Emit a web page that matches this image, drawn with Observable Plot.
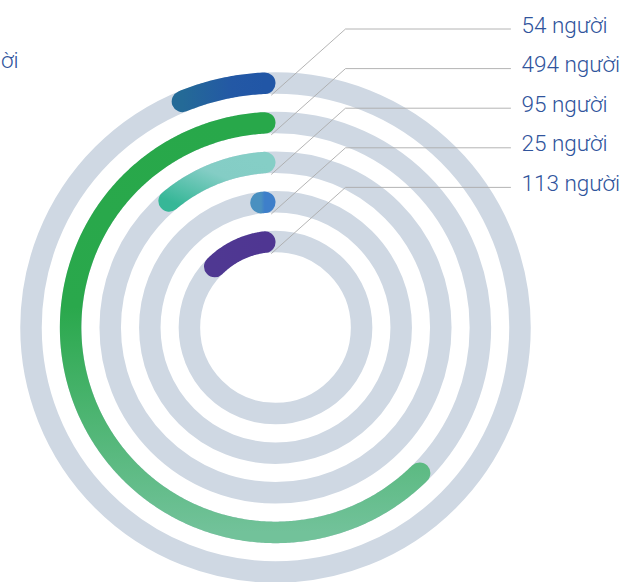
<!DOCTYPE html>
<html>
<head>
<meta charset="utf-8">
<script src="https://cdn.jsdelivr.net/npm/d3@7"></script>
<script src="https://cdn.jsdelivr.net/npm/@observablehq/plot@0.6"></script>
<style>
  html, body { margin: 0; padding: 0; background: #ffffff; }
  #chart svg { display: block; }
</style>
</head>
<body>
<div id="chart"></div>
<script>
// ---- data ----
const values = [54, 494, 95, 25, 113];
const labels = ["54 người", "494 người", "95 người", "25 người", "113 người"];
const edgeLabel = ["ời"];

// ---- styles ----
const gradients = [
  {id: "g0", x1: 0, y1: 0, x2: 1, y2: 0, stops: [[0, "#246a97"], [0.6, "#2358a5"], [1, "#2156a6"]]},
  {id: "g1", x1: 0, y1: 0, x2: 0, y2: 1, stops: [[0, "#28a84a"], [0.45, "#2aa84c"], [1, "#72c29a"]]},
  {id: "g2", x1: 1, y1: 0, x2: 0, y2: 1, stops: [[0, "#85cec6"], [0.4, "#84cdc5"], [1, "#36b797"]]},
  {id: "g3", x1: 0, y1: 0, x2: 1, y2: 0, stops: [[0, "#4a90c0"], [1, "#3e7fca"]]},
  {id: "g4", x1: 0, y1: 0, x2: 1, y2: 0, stops: [[0, "#4f3892"], [1, "#4f3692"]]}
];
const trackColor = "#cfd8e3";
const textColor = "#30549c";
const leaderColor = "#ababab";

// ---- layout ----
const W = 627, H = 582, cx = 275, cy = 327;
const r0 = 244.5, step = 39.6, band = 21.5, cap = band / 2;
const total = d3.sum(values);
const radii = values.map((_, i) => r0 - i * step);

// arc points: angle measured from 12 o'clock, counter-clockwise
function arcPoints(v, r) {
  const theta = v / total * 2 * Math.PI;
  const a0 = cap / r;
  const a1 = Math.max(a0, theta - cap / r);
  const n = Math.max(2, Math.ceil((a1 - a0) / (Math.PI / 360)) + 1);
  return d3.range(n).map(k => {
    const a = a0 + (a1 - a0) * k / (n - 1);
    return {x: -r * Math.sin(a), y: r * Math.cos(a)};
  });
}

const leaders = values.flatMap((v, i) => {
  const yTop = radii[i] - cap - 1.25;
  const yLine = yTop + 66;
  return [
    {i, x: -4, y: yTop},
    {i, x: 70, y: yLine},
    {i, x: 235, y: yLine}
  ];
});
const labelRows = labels.map((t, i) => ({text: t, x: 246, y: radii[i] - cap - 1.25 + 66 + 3.7}));

const marks = [];
radii.forEach(r => {
  marks.push(Plot.dot([0], {x: () => 0, y: () => 0, r: r, fill: "none", stroke: trackColor, strokeWidth: band}));
});
values.forEach((v, i) => {
  marks.push(Plot.line(arcPoints(v, radii[i]), {
    x: "x", y: "y", stroke: `url(#${gradients[i].id})`, strokeWidth: band,
    strokeLinecap: "round", strokeLinejoin: "round", curve: "linear"
  }));
});
marks.push(Plot.line(leaders, {x: "x", y: "y", z: "i", stroke: leaderColor, strokeWidth: 0.9, curve: "linear"}));
marks.push(Plot.text(labelRows, {
  x: "x", y: "y", text: "text", textAnchor: "start", lineAnchor: "middle",
  fill: textColor, fontSize: 22.5, fontWeight: 300, fontFamily: "Roboto"
}));
marks.push(Plot.text(edgeLabel, {
  x: () => -cx + 0.5, y: () => 267, text: d => d, textAnchor: "start", lineAnchor: "middle",
  fill: textColor, fontSize: 22.5, fontWeight: 300, fontFamily: "Roboto"
}));

const chart = Plot.plot({
  width: W,
  height: H,
  margin: 0,
  x: {domain: [-cx, W - cx], range: [0, W], axis: null},
  y: {domain: [-(H - cy), cy], range: [H, 0], axis: null},
  style: {fontFamily: "Roboto", background: "#ffffff", overflow: "hidden"},
  marks
});

const defs = d3.select(chart).insert("defs", ":first-child");
gradients.forEach(g => {
  const lg = defs.append("linearGradient").attr("id", g.id)
    .attr("x1", g.x1).attr("y1", g.y1).attr("x2", g.x2).attr("y2", g.y2);
  g.stops.forEach(([o, c]) => lg.append("stop").attr("offset", o).attr("stop-color", c));
});

document.getElementById("chart").appendChild(chart);
</script>
</body>
</html>
